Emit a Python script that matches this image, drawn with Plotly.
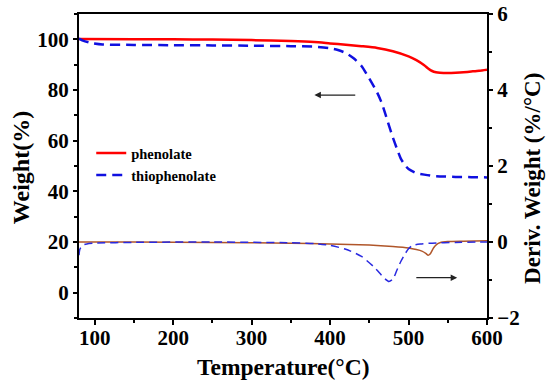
import plotly.graph_objects as go

# --- data ---
t_phen_tg = [80, 150, 200, 250, 300, 350, 380, 400, 420, 440, 460, 480, 500, 510, 520, 525, 530, 535, 540, 550, 560, 570, 580, 590, 600]
w_phen_tg = [100.1, 100.0, 100.0, 99.9, 99.7, 99.3, 98.9, 98.4, 97.9, 97.3, 96.6, 95.3, 93.3, 91.8, 89.8, 88.5, 87.5, 87.0, 86.8, 86.7, 86.8, 87.0, 87.3, 87.6, 88.0]

t_thio_tg = [80, 85, 95, 110, 150, 200, 250, 300, 350, 380, 400, 410, 420, 430, 440, 450, 460, 465, 470, 475, 480, 485, 490, 495, 500, 510, 520, 530, 540, 560, 580, 600]
w_thio_tg = [100.3, 99.5, 98.6, 98.0, 97.8, 97.7, 97.6, 97.5, 97.3, 97.1, 96.5, 95.8, 94.6, 92.5, 89.5, 84.5, 79.0, 75.5, 71.0, 66.0, 61.3, 57.0, 53.0, 50.5, 48.8, 47.2, 46.6, 46.1, 45.9, 45.7, 45.6, 45.5]

t_phen_dtg = [80, 150, 250, 350, 400, 450, 480, 500, 510, 517, 522, 525, 528, 532, 536, 540, 550, 570, 600]
d_phen_dtg = [0.0, 0.0, -0.01, -0.03, -0.05, -0.08, -0.12, -0.16, -0.2, -0.24, -0.3, -0.35, -0.3, -0.15, -0.06, -0.02, 0.01, 0.02, 0.03]

t_thio_dtg = [80, 81, 84, 90, 100, 150, 250, 350, 380, 400, 420, 440, 455, 465, 470, 475, 480, 485, 490, 495, 500, 505, 515, 530, 560, 600]
d_thio_dtg = [-0.35, -0.2, -0.09, -0.05, -0.03, -0.01, 0.0, -0.02, -0.04, -0.09, -0.19, -0.38, -0.64, -0.86, -0.97, -1.04, -0.98, -0.75, -0.52, -0.33, -0.18, -0.09, -0.05, -0.03, -0.01, 0.0]

series_names = ["phenolate", "thiophenolate"]
x_ticks = [100, 200, 300, 400, 500, 600]
y_ticks = [0, 20, 40, 60, 80, 100]
y2_ticks = [-2, 0, 2, 4, 6]

FONT = "Liberation Serif, Times New Roman, DejaVu Serif, serif"

fig = go.Figure()
fig.add_trace(go.Scatter(x=t_phen_tg, y=w_phen_tg, name=series_names[0], mode="lines",
                         line=dict(color="#ff0000", width=2.5, shape="spline", smoothing=0.6)))
fig.add_trace(go.Scatter(x=t_thio_tg, y=w_thio_tg, name=series_names[1], mode="lines",
                         line=dict(color="#1010e0", width=2.5, dash="10px,6px", shape="spline", smoothing=0.6)))
fig.add_trace(go.Scatter(x=t_phen_dtg, y=d_phen_dtg, mode="lines", showlegend=False, yaxis="y2",
                         line=dict(color="#b0562a", width=1.5, shape="spline", smoothing=0.6)))
fig.add_trace(go.Scatter(x=t_thio_dtg, y=d_thio_dtg, mode="lines", showlegend=False, yaxis="y2",
                         line=dict(color="#2a2ae0", width=1.5, dash="8px,5px", shape="spline", smoothing=0.6)))

tickfont = dict(family=FONT, size=21, color="black", weight="bold")

fig.update_layout(
    template="none",
    width=550, height=383,
    margin=dict(l=79, r=63, t=14, b=65, autoexpand=False),
    paper_bgcolor="white", plot_bgcolor="white",
    showlegend=True,
    legend=dict(x=0.03, y=0.595, xanchor="left", yanchor="top",
                font=dict(family=FONT, size=14.5, color="black", weight="bold"),
                bgcolor="rgba(0,0,0,0)", tracegroupgap=0, itemwidth=30),
    xaxis=dict(range=[80, 600], tickvals=x_ticks, ticks="outside", ticklen=5, tickwidth=1.5,
               tickcolor="black", showline=True, linecolor="black", linewidth=2, mirror=True,
               showgrid=False, zeroline=False, tickfont=tickfont, automargin=False,
               ticklabelstandoff=-5,
               minor=dict(ticks="outside", ticklen=3, tickwidth=1.5, tickcolor="black", dtick=50, showgrid=False)),
    yaxis=dict(range=[-10, 110], tickvals=y_ticks, ticks="outside", ticklen=4, tickwidth=1.5,
               tickcolor="black", showline=True, linecolor="black", linewidth=2,
               showgrid=False, zeroline=False, tickfont=tickfont, automargin=False,
               minor=dict(ticks="outside", ticklen=3, tickwidth=1.5, tickcolor="black", dtick=10, showgrid=False)),
    yaxis2=dict(range=[-2, 6], tickvals=y2_ticks, overlaying="y", side="right", ticks="outside",
                ticklen=4, tickwidth=1.5, tickcolor="black", showline=True, linecolor="black", linewidth=2,
                showgrid=False, zeroline=False, tickfont=tickfont, automargin=False,
                minor=dict(ticks="outside", ticklen=3, tickwidth=1.5, tickcolor="black", dtick=1, showgrid=False)),
)

fig.add_annotation(text="Weight(%)", xref="paper", yref="paper", x=-0.142, y=0.493,
                   xanchor="center", yanchor="middle", textangle=-90, showarrow=False,
                   font=dict(family=FONT, size=24, color="black", weight="bold"))
fig.add_annotation(text="Temperature(°C)", xref="paper", yref="paper", x=0.5, y=-0.161,
                   xanchor="center", yanchor="middle", showarrow=False,
                   font=dict(family=FONT, size=23.5, color="black", weight="bold"))
fig.add_annotation(text="Deriv. Weight (%/°C)", xref="paper", yref="paper", x=1.110, y=0.4605,
                   xanchor="center", yanchor="middle", textangle=-90, showarrow=False,
                   font=dict(family=FONT, size=23, color="black", weight="bold"))

# arrows indicating axis association
fig.add_annotation(x=380, y=78, ax=434, ay=78, xref="x", yref="y", axref="x", ayref="y",
                   text="", showarrow=True, arrowhead=2, arrowsize=1, arrowwidth=1.3, arrowcolor="#222222")
fig.add_annotation(x=562, y=-0.94, ax=508, ay=-0.94, xref="x", yref="y2", axref="x", ayref="y2",
                   text="", showarrow=True, arrowhead=2, arrowsize=1, arrowwidth=1.3, arrowcolor="#222222")

fig.write_html("out.html", config={"displayModeBar": False},
               post_script="document.body.style.margin='0';")
